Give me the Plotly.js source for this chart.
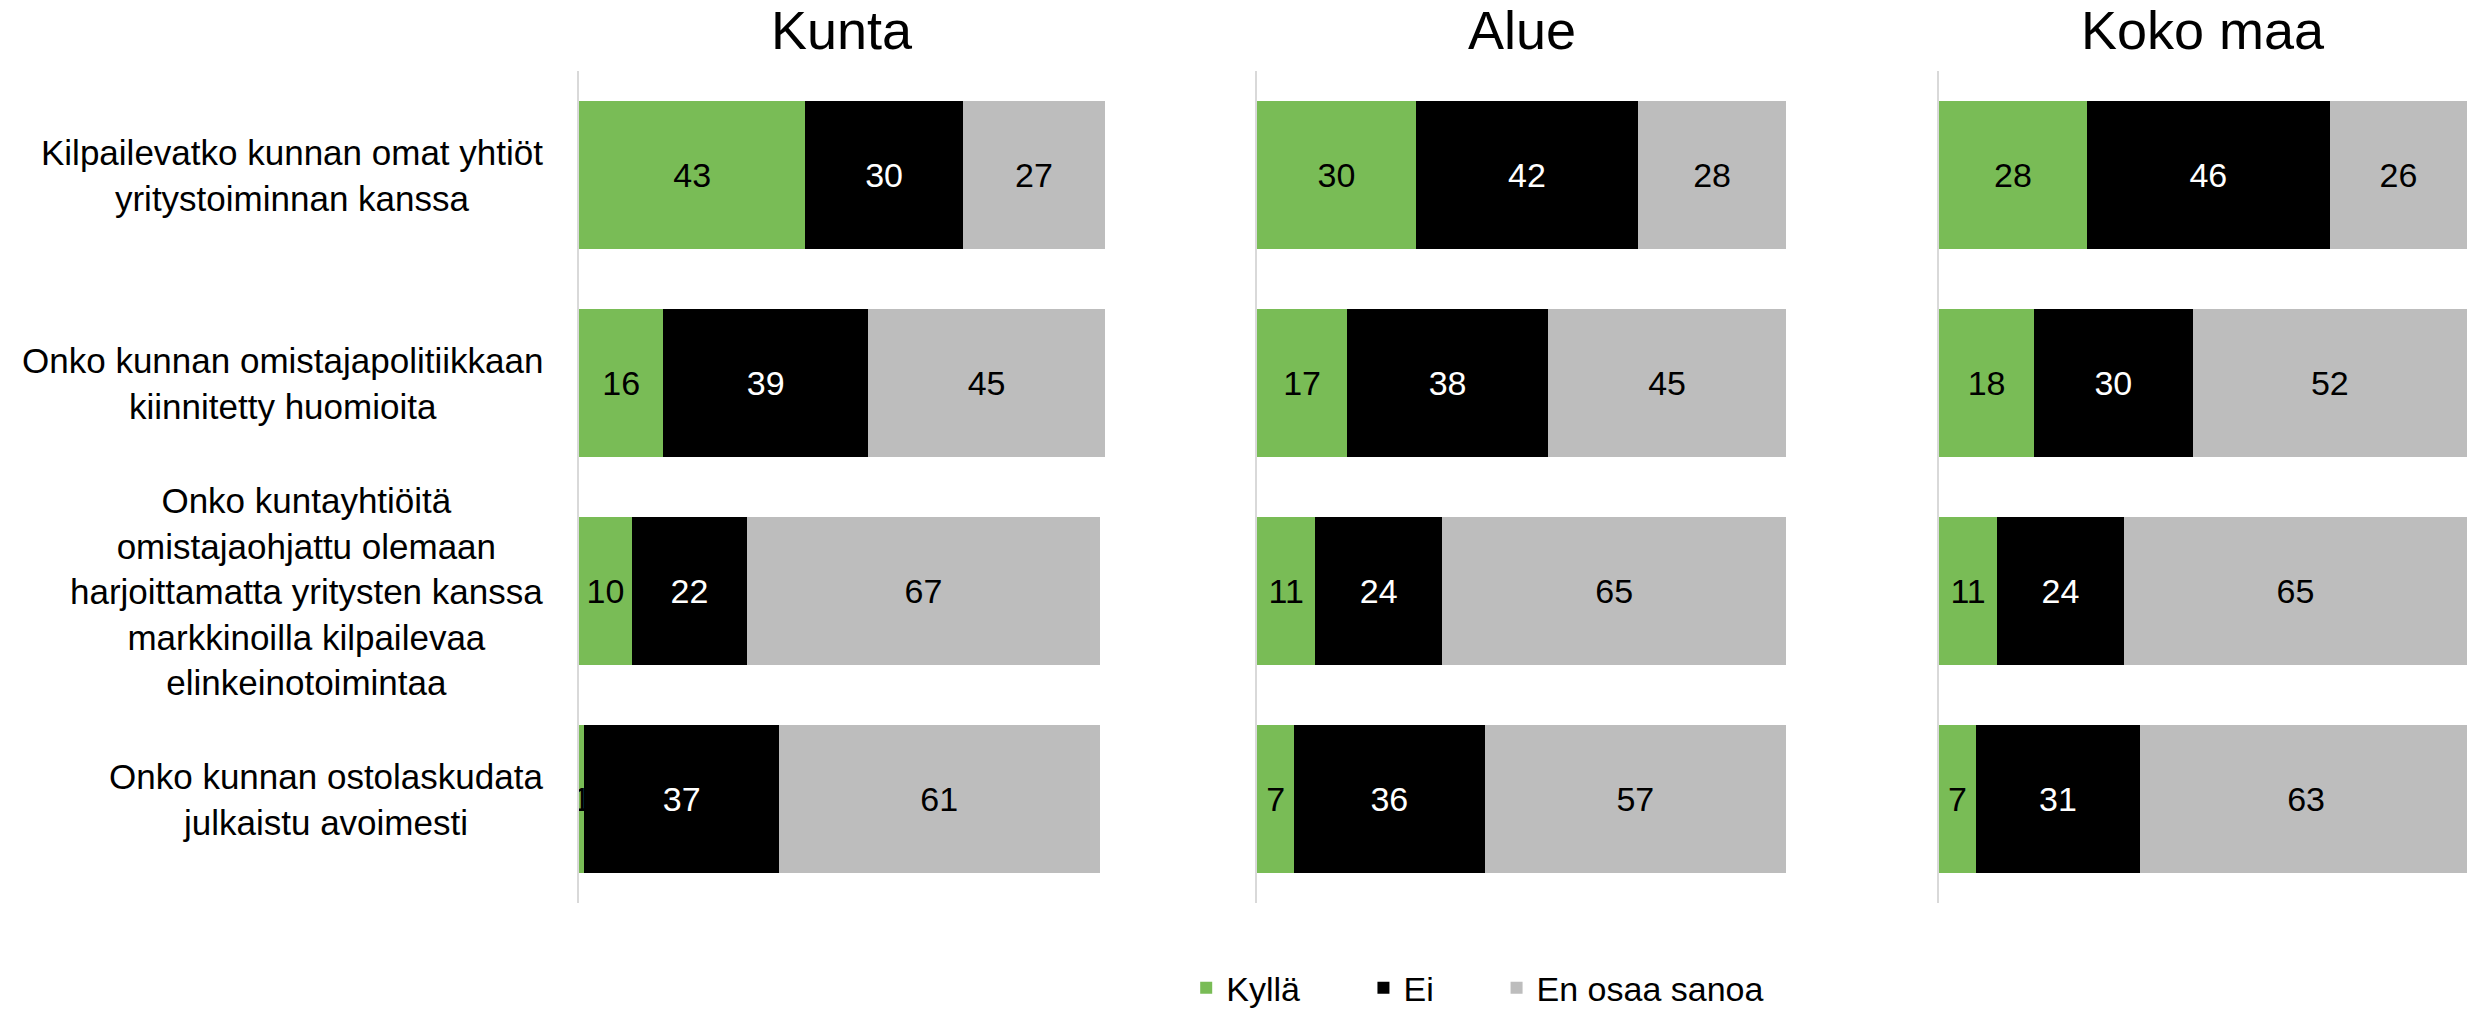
<!DOCTYPE html>
<html>
<head>
<meta charset="utf-8">
<script src="https://cdn.plot.ly/plotly-3.0.1.min.js"></script>
<style>html,body{margin:0;padding:0;background:#fff;}</style>
</head>
<body>
<div id="chart" style="width:2479px;height:1012px;"></div>
<script>
// ---- data ----
const categories = [
  "Kilpailevatko kunnan omat yhtiöt<br>yritystoiminnan kanssa",
  "Onko kunnan omistajapolitiikkaan<br>kiinnitetty huomioita",
  "Onko kuntayhtiöitä<br>omistajaohjattu olemaan<br>harjoittamatta yritysten kanssa<br>markkinoilla kilpailevaa<br>elinkeinotoimintaa",
  "Onko kunnan ostolaskudata<br>julkaistu avoimesti"
];
const panelTitles = ["Kunta", "Alue", "Koko maa"];
const seriesNames = ["Kyllä", "Ei", "En osaa sanoa"];

const kuntaKylla = [43, 16, 10, 1];
const kuntaEi    = [30, 39, 22, 37];
const kuntaEos   = [27, 45, 67, 61];

const alueKylla  = [30, 17, 11, 7];
const alueEi     = [42, 38, 24, 36];
const alueEos    = [28, 45, 65, 57];

const maaKylla   = [28, 18, 11, 7];
const maaEi      = [46, 30, 24, 31];
const maaEos     = [26, 52, 65, 63];

// ---- styling ----
const FONT = "Liberation Sans, Arial, sans-serif";
const colors = ["#79BC56", "#000000", "#BDBDBD"];
const textColors = ["#000000", "#FFFFFF", "#000000"];
const legendIds = ["legend", "legend2", "legend3"];

const panelData = [
  [kuntaKylla, kuntaEi, kuntaEos],
  [alueKylla, alueEi, alueEos],
  [maaKylla, maaEi, maaEos]
];

const xDomains = [[0.2336, 0.4457], [0.5071, 0.7205], [0.7822, 0.9952]];
const yDomain = [0.1077, 0.9298];

const traces = [];
panelData.forEach((series, p) => {
  const xa = p === 0 ? "x" : "x" + (p + 1);
  const ya = p === 0 ? "y" : "y" + (p + 1);
  series.forEach((vals, s) => {
    traces.push({
      type: "bar",
      orientation: "h",
      name: seriesNames[s],
      x: vals,
      y: categories,
      xaxis: xa,
      yaxis: ya,
      marker: {color: colors[s], line: {width: 0}},
      text: vals.map(String),
      textposition: "inside",
      insidetextanchor: "middle",
      textangle: 0,
      textfont: {family: FONT, size: 34, color: textColors[s]},
      hoverinfo: "skip",
      showlegend: p === 0,
      legend: legendIds[s]
    });
  });
});

const legendBase = {orientation: "h", y: -0.005, xanchor: "left", yanchor: "bottom",
  font: {family: FONT, size: 34}, bgcolor: "rgba(0,0,0,0)"};

const layout = {
  width: 2479,
  height: 1012,
  margin: {l: 0, r: 0, t: 0, b: 0, autoexpand: false},
  paper_bgcolor: "#FFFFFF",
  plot_bgcolor: "#FFFFFF",
  barmode: "stack",
  bargap: 0.288,
  font: {family: FONT, color: "#000000"},
  uniformtext: {mode: "show", minsize: 34},
  annotations: [],
  legend:  Object.assign({}, legendBase, {x: 0.4785}),
  legend2: Object.assign({}, legendBase, {x: 0.5500}),
  legend3: Object.assign({}, legendBase, {x: 0.6037})
};

panelTitles.forEach((t, p) => {
  const sfx = p === 0 ? "" : String(p + 1);
  layout["xaxis" + sfx] = {
    domain: xDomains[p],
    range: [0, 100],
    anchor: "y" + sfx,
    showgrid: false, zeroline: false, showline: false,
    showticklabels: false, ticks: "", fixedrange: true
  };
  layout["yaxis" + sfx] = {
    domain: yDomain,
    anchor: "x" + sfx,
    type: "category",
    categoryorder: "array",
    categoryarray: categories,
    autorange: "reversed",
    showgrid: false, zeroline: false,
    showline: true, linecolor: "#D9D9D9", linewidth: 2,
    showticklabels: false, ticks: "", fixedrange: true
  };
  layout.annotations.push({
    text: t,
    xref: "x" + sfx + " domain", x: 0.5, xanchor: "center",
    yref: "paper", y: 0.9704, yanchor: "middle",
    showarrow: false,
    font: {family: FONT, size: 54, color: "#000000"}
  });
});

categories.forEach((c) => {
  layout.annotations.push({
    text: c,
    xref: "paper", x: 0.2199, xanchor: "right",
    yref: "y", y: c, yanchor: "middle",
    align: "center",
    showarrow: false,
    font: {family: FONT, size: 35, color: "#000000"}
  });
});

Plotly.newPlot("chart", traces, layout, {displayModeBar: false, staticPlot: true});
</script>
</body>
</html>
